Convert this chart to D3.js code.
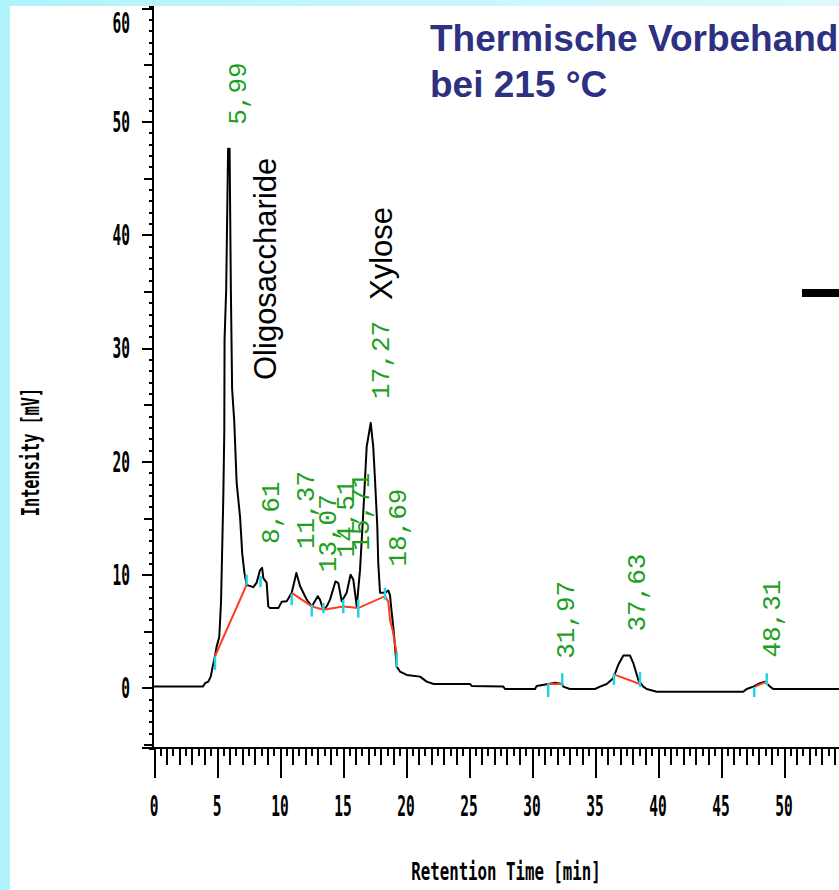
<!DOCTYPE html>
<html>
<head>
<meta charset="utf-8">
<script src="https://cdn.jsdelivr.net/npm/d3@7"></script>
<style>
  html, body { margin: 0; padding: 0; background: #fff; overflow: hidden; }
  svg { display: block; }
</style>
</head>
<body>
<div id="chart"></div>
<script>
// chromatogram trace (minutes, mV)
const traceTime = [0, 3.89, 4.05, 4.31, 4.5, 4.66, 4.84, 4.97, 5.18, 5.32, 5.5, 5.58, 5.6, 5.73, 5.88, 6.0,
  6.1, 6.2, 6.37, 6.56, 6.83, 7.0, 7.17, 7.35, 7.88, 8.15, 8.41, 8.58, 8.68, 8.94, 9.07, 9.21, 9.87,
  10.13, 10.53, 10.93, 11.3, 11.59, 11.85, 12.12, 12.52, 13.0, 13.17, 13.44, 13.71, 13.97, 14.4, 14.63,
  14.9, 15.29, 15.6, 15.82, 16.09, 16.35, 16.61, 16.88, 17.2, 17.4, 17.54, 17.72, 17.8, 17.94, 18.33,
  18.6, 18.73, 18.87, 18.99, 19.13, 19.26, 19.52, 20.06, 21.11, 21.64, 22.2, 25.08, 25.21, 27.72, 27.86,
  30.24, 30.37, 31.29, 31.9, 32.4, 32.48, 33.0, 35.0, 35.4, 35.93, 36.45, 36.85, 37.25, 37.78, 38.04,
  38.44, 38.83, 39.1, 39.9, 46.77, 47.04, 47.56, 48.1, 48.49, 48.89, 49.15, 56];
const traceMv = [0.12, 0.12, 0.42, 0.56, 1.0, 1.9, 2.8, 3.65, 4.5, 7.6, 16.8, 22.8, 30.8, 35.2, 47.6, 47.6,
  35.2, 26.4, 23.5, 18.1, 15.1, 11.9, 10.2, 9.1, 8.9, 9.3, 10.4, 10.6, 9.7, 9.3, 7.2, 7.05, 7.05,
  7.6, 7.65, 8.4, 10.15, 9.0, 8.4, 7.8, 7.2, 8.1, 7.8, 6.9, 7.2, 7.8, 9.4, 9.25,
  7.65, 8.4, 10.0, 9.55, 7.2, 10.4, 15.5, 21.3, 23.4, 21.3, 18.4, 14.3, 11.0, 8.4, 8.4,
  8.6, 8.2, 6.6, 5.4, 3.65, 1.9, 1.45, 1.15, 1.0, 0.56, 0.35, 0.35, 0.18, 0.12, -0.09,
  -0.09, 0.18, 0.35, 0.45, 0.35, 0.12, -0.09, -0.09, 0.12, 0.35, 0.86, 2.05, 2.86, 2.86, 2.2,
  0.7, 0.12, -0.09, -0.33, -0.33, -0.09, 0.12, 0.42, 0.56, 0.12, -0.09, -0.09];

// integration baselines (red), each a list of [min, mV]
const baselineSegments = [
  [[4.84, 2.8], [7.35, 9.1]],
  [[10.93, 8.4], [12.52, 7.2], [13.44, 6.9], [15.02, 7.2], [16.21, 7.05], [18.33, 8.1], [18.6, 7.6],
   [18.73, 6.0], [18.94, 5.1], [19.26, 3.0]],
  [[31.29, 0.35], [32.4, 0.35]],
  [[36.59, 1.15], [38.57, 0.35]],
  [[47.7, 0.12], [48.63, 0.56]]
];

// peak start / end marks (cyan): [min, mV top, mV bottom]
const peakMarks = [
  [4.84, 2.8, 1.6], [7.35, 10.0, 9.1], [8.45, 9.9, 8.9], [10.93, 8.3, 7.3], [12.52, 7.35, 6.3],
  [13.44, 7.5, 6.6], [15.02, 7.8, 6.6], [16.21, 7.8, 6.2], [18.33, 8.85, 7.8], [19.26, 3.1, 1.85],
  [31.29, 0.4, -0.8], [32.4, 1.3, 0.2], [36.5, 1.3, 0.27], [38.57, 1.4, 0.1], [47.64, 0.1, -0.8],
  [48.63, 1.3, 0.27]
];

// retention time labels
const peakLabels = ['5,99', '8,61', '11,37', '13,07', '14,51', '15,71', '17,27', '18,69', '31,97', '37,63', '48,31'];
const peakTimes = [5.99, 8.61, 11.37, 13.07, 14.51, 15.71, 17.27, 18.69, 31.97, 37.63, 48.31];
const peakHeights = [47.6, 10.6, 10.15, 8.1, 9.4, 10.0, 23.4, 8.6, 0.45, 2.86, 0.56];

const yTickLabels = [0, 10, 20, 30, 40, 50, 60];
const xTickLabels = [0, 5, 10, 15, 20, 25, 30, 35, 40, 45, 50];

// the slide cuts the first line off at its right edge
const titleLines = ['Thermische Vorbehand', 'bei 215 °C'];

const width = 839, height = 890;

const svg = d3.select('#chart').append('svg')
    .attr('width', width)
    .attr('height', height);

const defs = svg.append('defs');
const grad = defs.append('linearGradient').attr('id', 'topstrip');
grad.append('stop').attr('offset', '0%').attr('stop-color', '#b0f3fb');
grad.append('stop').attr('offset', '100%').attr('stop-color', '#def9fc');

// slide background
svg.append('rect').attr('width', width).attr('height', height).attr('fill', '#b0f3fb');
svg.append('rect').attr('width', width).attr('height', 6).attr('fill', 'url(#topstrip)');
svg.append('rect').attr('x', 10).attr('y', 6).attr('width', width - 10).attr('height', height - 6).attr('fill', '#fff');

const x = d3.scaleLinear().domain([0, 55]).range([154, 847]);
const y = d3.scaleLinear().domain([-5.3, 60.2]).range([748, 6]);

const pixelFont = '"DejaVu Sans Mono", monospace';

// y axis: minor, mid and major ticks
const yAxisG = svg.append('g').attr('transform', 'translate(152,0)');
yAxisG.append('g').call(d3.axisLeft(y).tickValues(d3.range(-4, 61)).tickSize(3.5).tickFormat(''));
yAxisG.append('g').call(d3.axisLeft(y).tickValues(d3.range(-5, 61, 5)).tickSize(8).tickFormat(''));
yAxisG.append('g').call(d3.axisLeft(y).tickValues(yTickLabels).tickSize(10).tickFormat(''));
yAxisG.selectAll('.domain').filter((d, i) => i > 0).remove();

// x axis
const xAxisG = svg.append('g').attr('transform', 'translate(0,748)');
xAxisG.append('g').call(d3.axisBottom(x).tickValues(d3.range(0.5, 56, 1)).tickSize(8).tickSizeOuter(0).tickFormat(''));
xAxisG.append('g').call(d3.axisBottom(x).tickValues(d3.range(0, 56)).tickSize(17).tickSizeOuter(0).tickFormat(''));
xAxisG.append('g').call(d3.axisBottom(x).tickValues(d3.range(0, 56, 5)).tickSize(30).tickSizeOuter(0).tickFormat(''));
xAxisG.selectAll('.domain').filter((d, i) => i > 0).remove();
xAxisG.select('.domain').attr('d', 'M142,0H' + x.range()[1]);

svg.selectAll('.domain, .tick line')
    .attr('stroke', '#000')
    .attr('stroke-width', 2)
    .attr('shape-rendering', 'crispEdges');

// tick labels in a tall narrow font
svg.append('g').selectAll('text')
    .data(yTickLabels)
    .join('text')
    .attr('transform', d => `translate(130,${Math.max(y(d), 23)}) scale(0.5,1)`)
    .attr('text-anchor', 'end')
    .attr('dominant-baseline', 'central')
    .attr('font-family', pixelFont)
    .attr('font-weight', 'bold')
    .attr('font-size', 29)
    .attr('fill', '#000')
    .text(d => d);

svg.append('g').selectAll('text')
    .data(xTickLabels)
    .join('text')
    .attr('transform', d => `translate(${x(d)},806) scale(0.5,1)`)
    .attr('text-anchor', 'middle')
    .attr('dominant-baseline', 'central')
    .attr('font-family', pixelFont)
    .attr('font-weight', 'bold')
    .attr('font-size', 29)
    .attr('fill', '#000')
    .text(d => d);

svg.append('text')
    .attr('transform', 'translate(31,452) rotate(-90) scale(0.61,1)')
    .attr('text-anchor', 'middle')
    .attr('dominant-baseline', 'central')
    .attr('font-family', pixelFont)
    .attr('font-weight', 'bold')
    .attr('font-size', 25)
    .text('Intensity [mV]');

svg.append('text')
    .attr('transform', 'translate(506,872) scale(0.63,1)')
    .attr('text-anchor', 'middle')
    .attr('dominant-baseline', 'central')
    .attr('font-family', pixelFont)
    .attr('font-weight', 'bold')
    .attr('font-size', 25)
    .text('Retention Time [min]');

// chromatogram
const line = d3.line()
    .x(d => x(d[0]))
    .y(d => y(d[1]));

svg.append('path')
    .datum(d3.zip(traceTime, traceMv))
    .attr('fill', 'none')
    .attr('stroke', '#000')
    .attr('stroke-width', 2)
    .attr('stroke-linejoin', 'round')
    .attr('d', line);

svg.append('g').selectAll('path')
    .data(baselineSegments)
    .join('path')
    .attr('fill', 'none')
    .attr('stroke', '#ff3a1e')
    .attr('stroke-width', 2)
    .attr('d', line);

svg.append('g').selectAll('line')
    .data(peakMarks)
    .join('line')
    .attr('x1', d => x(d[0]))
    .attr('x2', d => x(d[0]))
    .attr('y1', d => y(d[1]))
    .attr('y2', d => y(d[2]))
    .attr('stroke', '#22d4e4')
    .attr('stroke-width', 2.5);

// retention time labels, rotated
svg.append('g').selectAll('text')
    .data(peakLabels)
    .join('text')
    .attr('transform', (d, i) => `translate(${x(peakTimes[i]) + 17},${y(peakHeights[i]) - 24}) rotate(-90)`)
    .attr('font-family', '"Liberation Mono", "DejaVu Sans Mono", monospace')
    .attr('font-size', 26)
    .attr('fill', '#1f9f1f')
    .text(d => d);

// compound names
svg.append('text')
    .attr('transform', 'translate(276,380) rotate(-90)')
    .attr('font-family', '"Liberation Sans", Arial, sans-serif')
    .attr('font-size', 31)
    .attr('fill', '#000')
    .text('Oligosaccharide');

svg.append('text')
    .attr('transform', 'translate(392,300) rotate(-90)')
    .attr('font-family', '"Liberation Sans", Arial, sans-serif')
    .attr('font-size', 31)
    .attr('fill', '#000')
    .text('Xylose');

// slide title
svg.append('g').selectAll('text')
    .data(titleLines)
    .join('text')
    .attr('x', 430)
    .attr('y', (d, i) => 51 + i * 46)
    .attr('font-family', '"Liberation Sans", Arial, sans-serif')
    .attr('font-weight', 'bold')
    .attr('font-size', 37)
    .attr('fill', '#2e3182')
    .text(d => d);

// arrow stub from the slide
svg.append('rect')
    .attr('x', 802).attr('y', 289)
    .attr('width', 40).attr('height', 8)
    .attr('fill', '#000');
</script>
</body>
</html>
